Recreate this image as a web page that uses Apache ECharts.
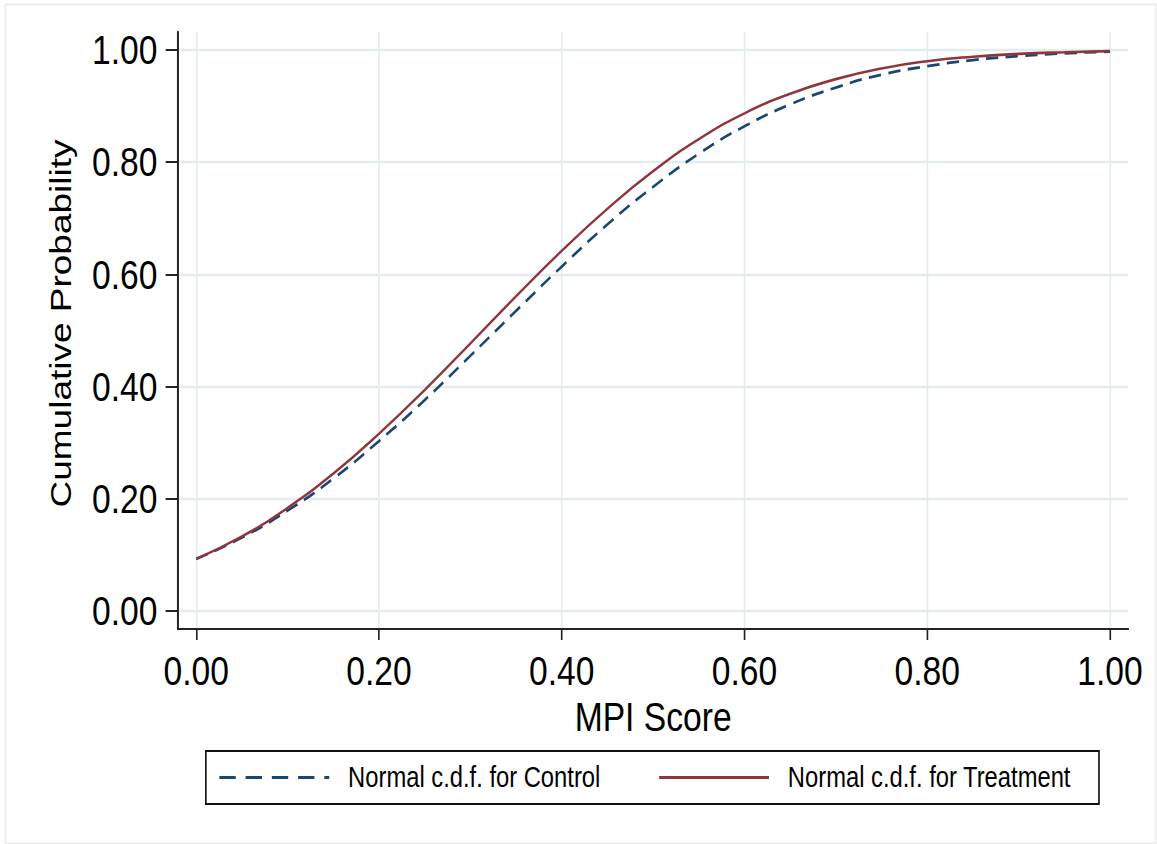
<!DOCTYPE html>
<html>
<head>
<meta charset="utf-8">
<script src="https://cdn.jsdelivr.net/npm/echarts@6/dist/echarts.min.js"></script>
<style>
html,body{margin:0;padding:0;background:#fff;overflow:hidden;width:1157px;height:844px;}
#chart{width:1411px;height:844px;transform:scaleX(0.82);transform-origin:0 0;}
</style>
</head>
<body>
<div id="chart"></div>
<script>
// MPI score grid points
const mpiScores = [0.00,0.05,0.10,0.15,0.20,0.25,0.30,0.35,0.40,0.45,0.50,0.55,0.60,0.65,0.70,0.75,0.80,0.85,0.90,0.95,1.00];
// Normal c.d.f. for Control
const controlCdf = [0.093,0.131,0.179,0.236,0.303,0.376,0.455,0.535,0.614,0.689,0.756,0.815,0.864,0.903,0.933,0.956,0.971,0.982,0.989,0.994,0.997];
// Normal c.d.f. for Treatment
const treatmentCdf = [0.093,0.133,0.184,0.245,0.316,0.394,0.477,0.561,0.642,0.717,0.784,0.841,0.887,0.922,0.948,0.967,0.980,0.988,0.993,0.996,0.998];
// tick values
const xTicks = [0,0.2,0.4,0.6,0.8,1.0];
const yTicks = [0,0.2,0.4,0.6,0.8,1.0];
const seriesNames = ['Normal c.d.f. for Control','Normal c.d.f. for Treatment'];
const xTitle = 'MPI Score';
const yTitle = 'Cumulative Probability';

const FONT = "'Liberation Sans',Arial,sans-serif";
const NAVY = '#1a476f';
const MAROON = '#90353b';

const chart = echarts.init(document.getElementById('chart'), null, {renderer:'svg'});
const pairs = (ys) => mpiScores.map((x,i)=>[x, ys[i]]);

chart.setOption({
  backgroundColor:'#ffffff',
  animation:false,
  graphic:[{
    type:'rect', left:4, top:2, z:-10, silent:true,
    shape:{width:1403, height:839},
    style:{fill:'none', stroke:'#ececec', lineWidth:2}
  }],
  grid:{left:217, right:35, top:32, bottom:215, containLabel:false},
  xAxis:{
    type:'value', min:-0.02, max:1.02,
    name:xTitle, nameLocation:'middle', nameGap:62,
    nameTextStyle:{fontFamily:FONT, fontSize:41, color:'#000'},
    axisLine:{show:true, onZero:false, lineStyle:{color:'#222', width:2}},
    axisTick:{show:true, length:11, customValues:xTicks, lineStyle:{color:'#222', width:2}},
    axisLabel:{customValues:xTicks, margin:21, fontFamily:FONT, fontSize:41, color:'#000',
      formatter:(v)=>v.toFixed(2)},
    splitLine:{show:true, lineStyle:{color:'#e4ecee', width:2}}
  },
  yAxis:{
    type:'value', min:-0.032, max:1.032,
    name:yTitle, nameLocation:'middle', nameGap:125, nameRotate:90,
    nameTextStyle:{fontFamily:FONT, fontSize:37, color:'#000', padding:[0,0,0,14]},
    axisLine:{show:true, onZero:false, lineStyle:{color:'#222', width:2.4}},
    axisTick:{show:true, length:15, customValues:yTicks, lineStyle:{color:'#222', width:2}},
    axisLabel:{customValues:yTicks, margin:25, fontFamily:FONT, fontSize:41, color:'#000',
      formatter:(v)=>v.toFixed(2)},
    splitLine:{show:true, lineStyle:{color:'#e4ecee', width:2.4}}
  },
  legend:{
    show:true, orient:'horizontal', left:251, top:751, width:1140,
    padding:[12,34,12,15], itemGap:70, itemWidth:134, itemHeight:20,
    borderColor:'#111', borderWidth:2, borderRadius:0, backgroundColor:'#fff',
    itemStyle:{opacity:0, borderWidth:0},
    textStyle:{fontFamily:FONT, fontSize:29, color:'#000', padding:[0,0,0,18]},
    data:[
      {name:seriesNames[0], lineStyle:{type:[20,12], width:3, color:NAVY}},
      {name:seriesNames[1], lineStyle:{type:'solid', width:3, color:MAROON}}
    ]
  },
  series:[
    {name:seriesNames[0], type:'line', data:pairs(controlCdf), smooth:true,
     symbol:'none', showSymbol:false, z:2,
     lineStyle:{color:NAVY, width:2.8, type:[15,9]}, itemStyle:{color:NAVY}},
    {name:seriesNames[1], type:'line', data:pairs(treatmentCdf), smooth:true,
     symbol:'none', showSymbol:false, z:3,
     lineStyle:{color:MAROON, width:2.6, type:'solid'}, itemStyle:{color:MAROON}}
  ]
});
</script>
</body>
</html>
